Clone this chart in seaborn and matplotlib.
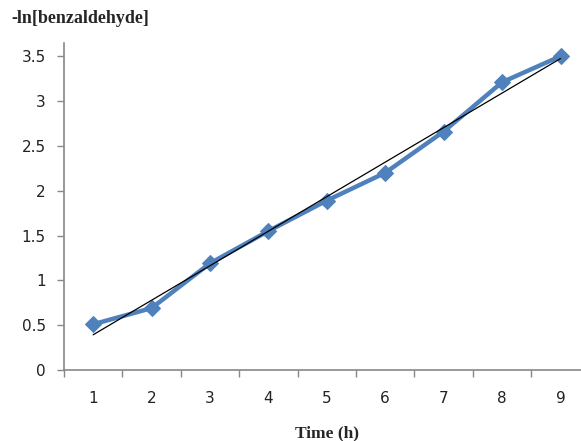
import matplotlib
matplotlib.use("Agg")
import matplotlib.pyplot as plt
import seaborn as sns
import pandas as pd

# values
time_h = [1, 2, 3, 4, 5, 6, 7, 8, 9]
neg_ln_benz = [0.51, 0.69, 1.19, 1.55, 1.89, 2.20, 2.66, 3.21, 3.50]
y_ticks = [0, 0.5, 1, 1.5, 2, 2.5, 3, 3.5]
y_tick_labels = ["0", "0.5", "1", "1.5", "2", "2.5", "3", "3.5"]

df = pd.DataFrame({"time": time_h, "value": neg_ln_benz})

sns.set_style("ticks")
plt.rcParams['font.family'] = ['DejaVu Sans']

fig = plt.figure(figsize=(5.81, 4.41), dpi=100)
ax = fig.add_axes([0.110, 0.161, 0.905, 0.741])

sns.lineplot(data=df, x="time", y="value", ax=ax, color="#4F81BD", linewidth=3.2,
             marker="D", markersize=8, markeredgecolor="#4F81BD", zorder=2)
sns.regplot(data=df, x="time", y="value", ax=ax, scatter=False, ci=None, truncate=True,
            line_kws={"color": "black", "linewidth": 0.9, "zorder": 3})

ax.set_xlim(0.5, 9.5)
ax.set_ylim(0, 3.645)
ax.set_yticks(y_ticks)
ax.set_yticklabels(y_tick_labels)
ax.set_xticks(time_h)
ax.set_xticklabels([str(t) for t in time_h])
ax.set_xticks([t + 0.5 for t in range(0, 10)], minor=True)

ax.tick_params(axis="x", which="major", bottom=True, length=0, pad=15, labelsize=11,
               colors="#222222")
ax.tick_params(axis="x", which="minor", bottom=True, length=5, width=1, color="#888888",
               direction="out")
ax.tick_params(axis="y", which="major", left=True, length=5, width=1, color="#888888",
               direction="out", pad=8, labelsize=11, labelcolor="#222222")
ax.tick_params(axis="y", which="minor", left=False)

for side in ["top", "right"]:
    ax.spines[side].set_visible(False)
for side in ["left", "bottom"]:
    ax.spines[side].set_color("#888888")
    ax.spines[side].set_linewidth(1.2)

ax.set_xlabel("")
ax.set_ylabel("")
fig.text(0.02, 0.957, "-ln[benzaldehyde]", fontfamily="Liberation Serif", fontweight="bold",
         fontsize=13, ha="left", va="center")
fig.text(0.563, 0.0, "Time (h)", fontfamily="Liberation Serif", fontweight="bold",
         fontsize=12.5, ha="center", va="bottom")

fig.savefig("out.png", dpi=100)
